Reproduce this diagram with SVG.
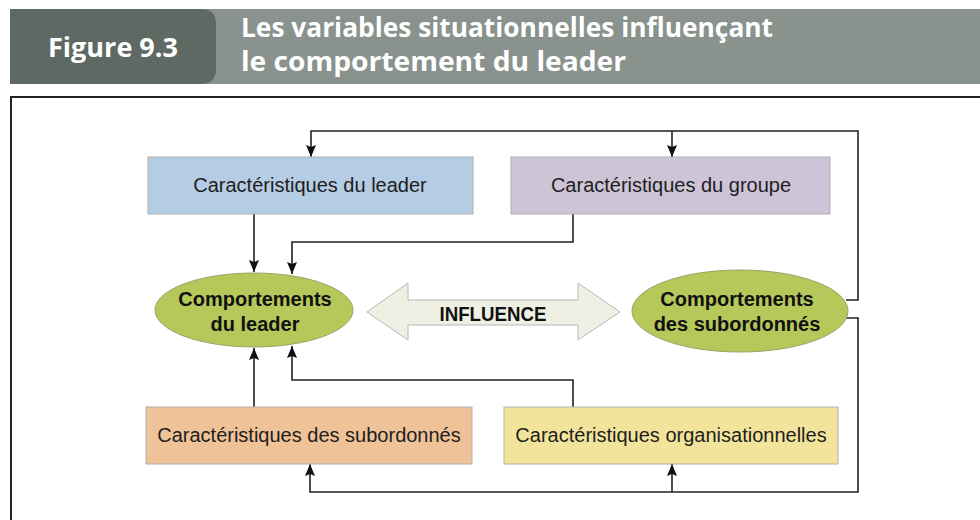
<svg xmlns="http://www.w3.org/2000/svg" width="980" height="520" viewBox="0 0 980 520">
<style>
.hdr{font-family:"Liberation Sans Narrow","Open Sans","Liberation Sans",sans-serif;font-weight:bold;fill:#ffffff;font-size:26px}
.box{stroke:#b0b0b0;stroke-width:1}
.bt{font-family:"Liberation Sans",Arial,sans-serif;font-size:20px;fill:#1e1e1e;text-anchor:middle}
.et{font-family:"Liberation Sans",Arial,sans-serif;font-size:20px;font-weight:bold;fill:#111;text-anchor:middle}
.ell{fill:#b6c85a;stroke:#9aa36a;stroke-width:1}
.con{fill:none;stroke:#222;stroke-width:1.6}
</style>
<defs>
<marker id="ah" markerUnits="userSpaceOnUse" markerWidth="12" markerHeight="10" refX="12" refY="5" orient="auto">
<path d="M0,0 L12,5 L0,10 L2,5 z" fill="#111"/>
</marker>
</defs>
<rect x="0" y="0" width="980" height="520" fill="#ffffff"/>
<g id="header">
<rect x="10" y="9" width="970" height="75" fill="#8a928d"/>
<path d="M10,9 H201 Q216,9 216,24 V69 Q216,84 201,84 H10 z" fill="#5e6964"/>
<text class="hdr" x="48" y="57" textLength="130" lengthAdjust="spacingAndGlyphs">Figure 9.3</text>
<text class="hdr" x="241" y="37" textLength="532" lengthAdjust="spacingAndGlyphs">Les variables situationnelles influençant</text>
<text class="hdr" x="241" y="71" textLength="385" lengthAdjust="spacingAndGlyphs">le comportement du leader</text>
</g>
<path d="M11,520 V97 H980" fill="none" stroke="#222" stroke-width="2"/>
<g id="connectors">
<path class="con" d="M846,300 H858 V131 H311 V157" marker-end="url(#ah)"/>
<path class="con" d="M672,131 V157" marker-end="url(#ah)"/>
<path class="con" d="M254,214 V272" marker-end="url(#ah)"/>
<path class="con" d="M573,214 V242 H292 V274" marker-end="url(#ah)"/>
<path class="con" d="M254,407 V348" marker-end="url(#ah)"/>
<path class="con" d="M573,407 V380 H292 V346" marker-end="url(#ah)"/>
<path class="con" d="M846,318 H858 V492 H310 V464" marker-end="url(#ah)"/>
<path class="con" d="M672,492 V464" marker-end="url(#ah)"/>
</g>
<g id="car-leader">
<rect class="box" x="148" y="157" width="325" height="57" fill="#b4cce4"/>
<text class="bt" x="310" y="192">Caractéristiques du leader</text>
</g>
<g id="car-groupe">
<rect class="box" x="511" y="157" width="319" height="57" fill="#cdc4d8"/>
<text class="bt" x="671" y="192">Caractéristiques du groupe</text>
</g>
<g id="comp-leader">
<ellipse class="ell" cx="254" cy="310" rx="99" ry="37"/>
<text class="et" x="255" y="306">Comportements</text>
<text class="et" x="255" y="331">du leader</text>
</g>
<g id="influence">
<polygon points="367,312 408,283 408,300 578,300 578,283 620,312 578,340 578,325 408,325 408,340" fill="#eef0e3" stroke="#b8b8b8" stroke-width="1"/>
<text class="et" x="493" y="321" textLength="107" lengthAdjust="spacingAndGlyphs">INFLUENCE</text>
</g>
<g id="comp-subordonnes">
<ellipse class="ell" cx="740" cy="311" rx="108" ry="41"/>
<text class="et" x="737" y="306">Comportements</text>
<text class="et" x="737" y="331">des subordonnés</text>
</g>
<g id="car-subordonnes">
<rect class="box" x="146" y="407" width="326" height="57" fill="#efc397"/>
<text class="bt" x="309" y="442">Caractéristiques des subordonnés</text>
</g>
<g id="car-organisation">
<rect class="box" x="504" y="407" width="334" height="57" fill="#f3e49b"/>
<text class="bt" x="671" y="442">Caractéristiques organisationnelles</text>
</g>
</svg>
